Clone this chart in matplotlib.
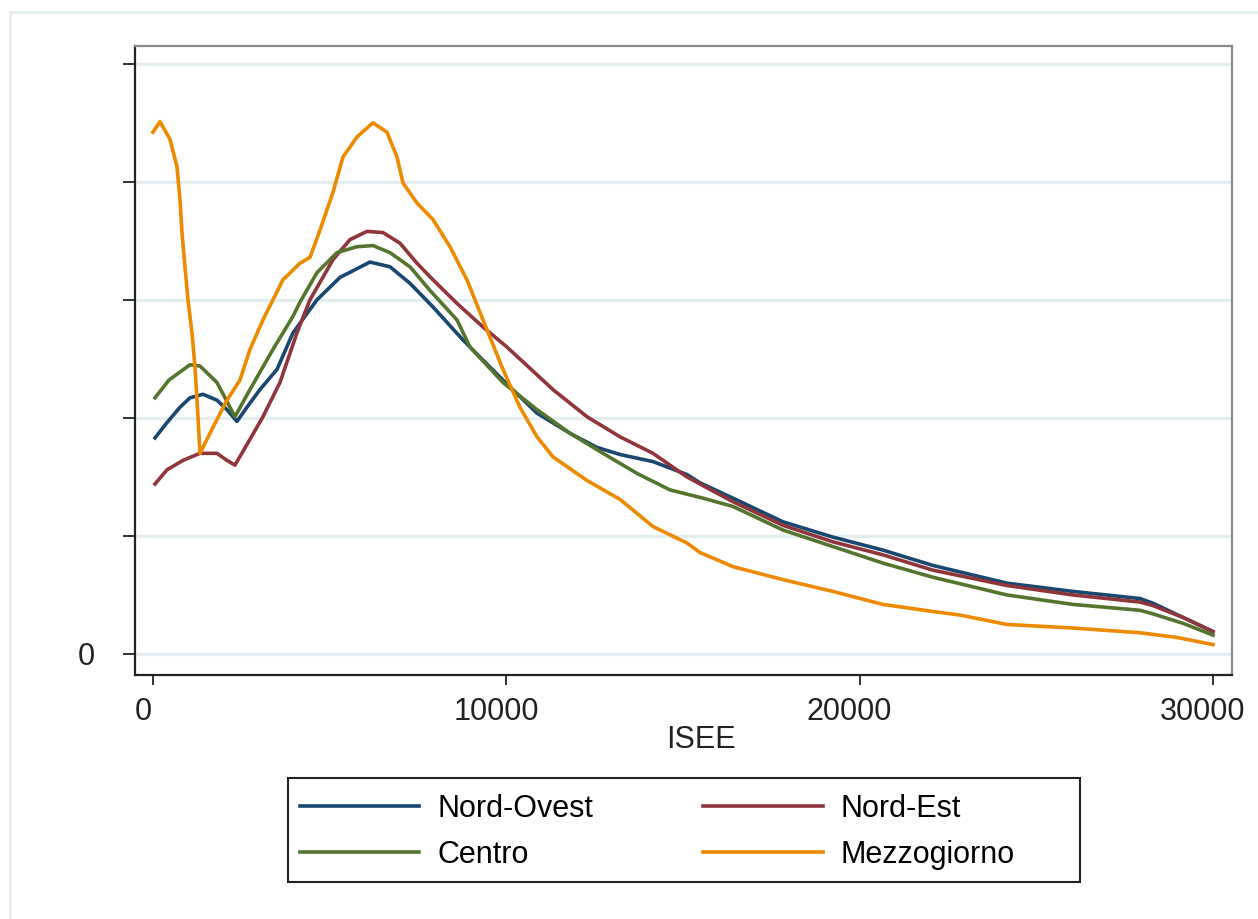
import matplotlib.pyplot as plt
import matplotlib.transforms as mtransforms
from matplotlib.lines import Line2D
from matplotlib.patches import Rectangle

# ============
#  DATA (density in tick units)
# ============

nord_ovest_x = [57, 396, 764, 1047, 1415, 1811, 2094, 2377, 2660, 3028, 3509, 3962,
                4641, 5292, 6141, 6708, 7274, 7925, 8774, 9906, 10868, 11802, 12566,
                13217, 14151, 15113, 15481, 16415, 17830, 19245, 20660, 22075, 24170,
                26038, 27934, 28302, 29151, 30000]
nord_ovest_y = [1.83, 1.96, 2.09, 2.17, 2.20, 2.15, 2.07, 1.97, 2.09, 2.24, 2.41, 2.72,
                3.00, 3.19, 3.32, 3.28, 3.14, 2.94, 2.66, 2.32, 2.04, 1.87, 1.75,
                1.69, 1.63, 1.52, 1.45, 1.32, 1.12, 0.99, 0.88, 0.75, 0.60,
                0.53, 0.47, 0.43, 0.31, 0.19]

nord_est_x = [57, 396, 849, 1330, 1811, 2094, 2320, 2690, 3113, 3594, 4075, 4443,
              5094, 5575, 6057, 6509, 6991, 7472, 7925, 8604, 9340, 10019, 11321,
              12283, 13217, 14151, 15113, 15481, 16415, 17830, 19245, 20660, 22075,
              24170, 26038, 27934, 28302, 29151, 30000]
nord_est_y = [1.44, 1.56, 1.64, 1.70, 1.70, 1.64, 1.60, 1.79, 2.01, 2.30, 2.72, 3.00,
              3.34, 3.51, 3.58, 3.57, 3.48, 3.31, 3.17, 2.97, 2.77, 2.60, 2.24,
              2.01, 1.84, 1.70, 1.50, 1.44, 1.29, 1.09, 0.95, 0.84, 0.71,
              0.58, 0.50, 0.44, 0.41, 0.31, 0.19]

centro_x = [57, 450, 1047, 1330, 1811, 2320, 2745, 3396, 3962, 4160, 4641, 5208, 5774,
            6226, 6708, 7274, 7840, 8604, 8972, 9906, 10868, 11802, 12736, 13698,
            14632, 15566, 16415, 17830, 19245, 20660, 22075, 24170, 26038, 27934,
            28302, 29151, 30000]
centro_y = [2.17, 2.32, 2.45, 2.44, 2.30, 2.01, 2.24, 2.58, 2.86, 2.98, 3.23, 3.40, 3.45,
            3.46, 3.40, 3.28, 3.08, 2.83, 2.60, 2.30, 2.07, 1.87, 1.70, 1.53,
            1.39, 1.32, 1.25, 1.05, 0.91, 0.77, 0.65, 0.50, 0.42, 0.37,
            0.34, 0.26, 0.16]

mezzogiorno_x = [0, 198, 481, 679, 764, 821, 906, 991, 1104, 1189, 1274, 1330, 1698,
                 2094, 2462, 2745, 3113, 3396, 3679, 4160, 4443, 4726, 5094, 5377,
                 5774, 6226, 6623, 6906, 7076, 7472, 7925, 8406, 8887, 9340, 9906,
                 10387, 10868, 11321, 12283, 13217, 14151, 15113, 15481, 16415,
                 17830, 19245, 20660, 22075, 22840, 24170, 26038, 27934, 28981, 30000]
mezzogiorno_y = [4.42, 4.51, 4.36, 4.13, 3.85, 3.57, 3.28, 3.00, 2.72, 2.43, 2.01, 1.70, 1.92,
                 2.15, 2.32, 2.58, 2.83, 3.00, 3.17, 3.31, 3.36, 3.59, 3.91, 4.21,
                 4.38, 4.50, 4.42, 4.21, 3.99, 3.82, 3.68, 3.45, 3.17, 2.83, 2.41,
                 2.09, 1.84, 1.67, 1.47, 1.31, 1.08, 0.94, 0.86, 0.74,
                 0.63, 0.53, 0.42, 0.36, 0.33, 0.25, 0.22, 0.18, 0.14, 0.08]

labels = ["Nord-Ovest", "Nord-Est", "Centro", "Mezzogiorno"]
colors = ["#1a476f", "#90353b", "#55752f", "#ee8a00"]

x_ticks = [0, 10000, 20000, 30000]
y_ticks = [0, 1, 2, 3, 4, 5]

# ============
#  PLOT
# ============

plt.rcParams["font.family"] = ["Liberation Sans", "DejaVu Sans"]

fig = plt.figure(figsize=(12.58, 9.19), dpi=100)
ax = fig.add_axes([0.1073, 0.2655, 0.8720, 0.6844])

# --- faint outer frame of the original graph window ---
frame_col = "#e6eef0"
fig.add_artist(Line2D([10 / 1258, 10 / 1258], [0, 1 - 12 / 919], color=frame_col,
                      lw=2, transform=fig.transFigure))
fig.add_artist(Line2D([10 / 1258, 1], [1 - 12 / 919, 1 - 12 / 919], color=frame_col,
                      lw=2, transform=fig.transFigure))

# --- grid ---
for yv in y_ticks:
    ax.axhline(yv, color="#e4edf0", lw=2.4, zorder=0)

series = [(nord_ovest_x, nord_ovest_y), (nord_est_x, nord_est_y),
          (centro_x, centro_y), (mezzogiorno_x, mezzogiorno_y)]
lines = []
for (xs, ys), lab, col in zip(series, labels, colors):
    ln, = ax.plot(xs, ys, color=col, lw=2.6, label=lab, zorder=3,
                  solid_joinstyle="round")
    lines.append(ln)

ax.set_xlim(-509, 30538)
ax.set_ylim(-0.178, 5.15)

ax.set_xticks(x_ticks)
ax.set_xticklabels([str(t) for t in x_ticks])
ax.set_yticks(y_ticks)
ax.set_yticklabels(["0", "", "", "", "", ""])
ax.tick_params(axis="x", length=7, width=1.3, pad=9, labelsize=22, colors="#222222")
ax.tick_params(axis="y", length=9, width=1.3, pad=20, labelsize=22, colors="#222222")

# x tick labels sit a little left of their ticks in the original
shift = mtransforms.ScaledTranslation(-10 / 100, 0, fig.dpi_scale_trans)
for lbl in ax.get_xticklabels():
    lbl.set_transform(lbl.get_transform() + shift)

for side in ["left", "bottom"]:
    ax.spines[side].set_color("#222222")
    ax.spines[side].set_linewidth(1.6)
for side in ["top", "right"]:
    ax.spines[side].set_color("#8a8a8a")
    ax.spines[side].set_linewidth(1.6)

ax.set_xlabel("ISEE", fontsize=22, color="#222222")
ax.xaxis.set_label_coords(0.516, -0.08)

# --- legend below the plot (row-wise order, frame drawn separately) ---
order = [0, 2, 1, 3]
leg = fig.legend([lines[i] for i in order], [labels[i] for i in order], ncol=2,
                 bbox_to_anchor=(300 / 1258, 1 - 794 / 919), loc="upper left",
                 borderaxespad=0, borderpad=0, fontsize=22, frameon=False,
                 handlelength=3.9, handletextpad=0.6, labelspacing=0.52,
                 columnspacing=3.6)
for ln in leg.get_lines():
    ln.set_linewidth(2.6)

fig.add_artist(Rectangle((288 / 1258, 1 - 882 / 919), 792 / 1258, 104 / 919,
                         transform=fig.transFigure, fill=False,
                         edgecolor="#222222", lw=1.5))

fig.savefig("out.png", dpi=100)
